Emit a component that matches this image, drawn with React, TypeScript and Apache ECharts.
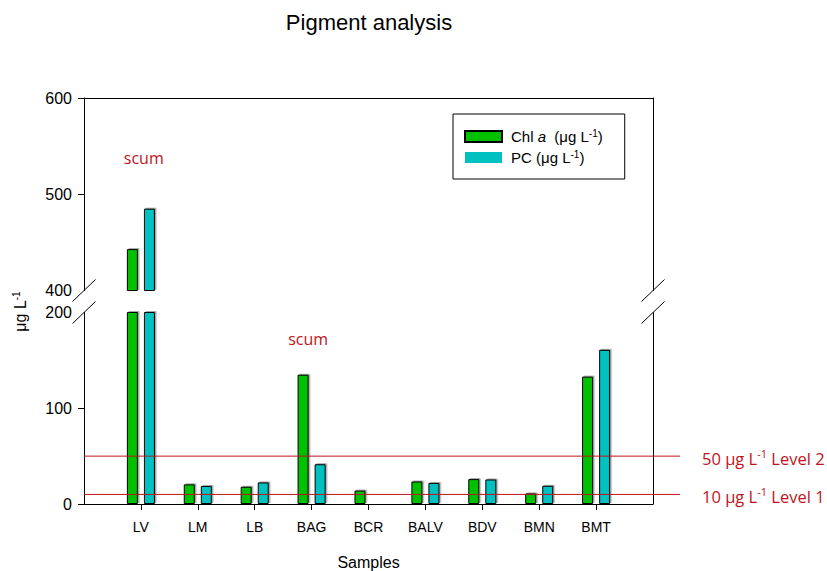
import React, { useEffect, useRef } from 'react';
import * as echarts from 'echarts';

// ---- data ----
const categories = ['LV', 'LM', 'LB', 'BAG', 'BCR', 'BALV', 'BDV', 'BMN', 'BMT'];
const chlA = [443, 20.5, 18, 135, 14, 23.5, 26, 11, 133];
const pc = [485, 18.8, 22.5, 41.5, 0, 22, 25.6, 19, 161];
const lowerTickValues = [0, 100, 200];
const upperTickValues = [400, 500, 600];
const levelValues = [50, 10];
const levelNames = ['Level 2', 'Level 1'];
const scumSamples = ['LV', 'BAG'];

const NAME_CHL = 'Chl a  (μg L-1)';
const NAME_PC = 'PC (μg L-1)';
const GREEN = '#00C000';
const CYAN = '#00C0C0';
const RED = '#C0141C';
const SANS = '"Liberation Sans", Arial, sans-serif';
const HUMAN = '"Open Sans", "Noto Sans", sans-serif';

const LOWER_MAX = lowerTickValues[lowerTickValues.length - 1];
const UPPER_MIN = upperTickValues[0];
const UPPER_MAX = upperTickValues[upperTickValues.length - 1];

const barItemStyle = (color: string) => ({
  color,
  borderColor: '#000',
  borderWidth: 1,
  shadowColor: 'rgba(0,0,0,0.35)',
  shadowOffsetX: 1.5,
  shadowOffsetY: -1,
  shadowBlur: 0,
});

const legendRich = {
  t: { fontFamily: SANS, fontSize: 15, color: '#000', lineHeight: 17 },
  i: { fontFamily: SANS, fontSize: 15, color: '#000', fontStyle: 'italic', lineHeight: 17 },
  s: { fontFamily: SANS, fontSize: 10, color: '#000', verticalAlign: 'top', lineHeight: 10 },
};

function buildOption() {
  const lowerData = (arr: number[]) => arr.map((v, i) => [i + 1, v]);
  const upperData = (arr: number[]) => arr.map((v, i) => [i + 1, v > UPPER_MIN ? v : '-']);
  const common = { type: 'bar', barWidth: 11, barGap: '55%', clip: true };
  const yBase = {
    type: 'value',
    axisLine: { show: true, lineStyle: { color: '#000', width: 1 } },
    axisTick: { show: true, inside: false, length: 6, lineStyle: { color: '#000' } },
    axisLabel: { fontFamily: SANS, fontSize: 16, color: '#000', margin: 12 },
    splitLine: { show: false },
  };
  const yRight = {
    type: 'value',
    position: 'right',
    axisLine: { show: true, onZero: false, lineStyle: { color: '#000', width: 1 } },
    axisTick: { show: false },
    axisLabel: { show: false },
    splitLine: { show: false },
  };
  return {
    animation: false,
    backgroundColor: '#fff',
    title: {
      text: 'Pigment analysis',
      left: 369,
      textAlign: 'center',
      top: 11,
      padding: 0,
      textStyle: { fontFamily: SANS, fontSize: 22, fontWeight: 'normal', color: '#000' },
    },
    legend: {
      orient: 'vertical',
      left: 453,
      top: 114,
      padding: [14, 22, 14, 11],
      itemWidth: 37,
      itemHeight: 11,
      itemGap: 5,
      icon: 'rect',
      selectedMode: false,
      backgroundColor: '#fff',
      borderColor: '#000',
      borderWidth: 1,
      borderRadius: 0,
      itemStyle: { shadowColor: 'rgba(0,0,0,0)', shadowOffsetX: 0, shadowOffsetY: 0, shadowBlur: 0 },
      data: [
        { name: NAME_CHL },
        { name: NAME_PC, itemStyle: { borderWidth: 0 } },
      ],
      formatter: (name: string) =>
        name === NAME_CHL
          ? '{t|Chl }{i|a}{t|  (μg L}{s|-1}{t|)}'
          : '{t|PC (μg L}{s|-1}{t|)}',
      textStyle: { fontFamily: SANS, fontSize: 15, color: '#000', padding: [0, 0, 0, 4], rich: legendRich },
    },
    grid: [
      { left: 84, right: 174, top: 98, height: 192.5 },
      { left: 84, right: 174, top: 312.5, height: 192.5 },
    ],
    xAxis: [
      {
        type: 'value', gridIndex: 0, min: 0, max: categories.length + 1, position: 'top',
        axisLine: { show: true, onZero: false, lineStyle: { color: '#000', width: 1 } },
        axisTick: { show: false }, axisLabel: { show: false }, splitLine: { show: false },
      },
      {
        type: 'value', gridIndex: 1, min: 0, max: categories.length + 1, interval: 1, position: 'bottom',
        name: 'Samples', nameLocation: 'middle', nameGap: 50,
        nameTextStyle: { fontFamily: SANS, fontSize: 16, color: '#000' },
        axisLine: { show: true, onZero: false, lineStyle: { color: '#000', width: 1 } },
        axisTick: { show: true, length: 6, customValues: categories.map((_, i) => i + 1), lineStyle: { color: '#000' } },
        axisLabel: {
          customValues: categories.map((_, i) => i + 1),
          formatter: (v: number) => categories[v - 1] ?? '',
          fontFamily: SANS, fontSize: 14, color: '#000', margin: 16,
        },
        splitLine: { show: false },
      },
    ],
    yAxis: [
      {
        ...yBase, gridIndex: 0, min: UPPER_MIN, max: UPPER_MAX, interval: 100,
        axisTick: { ...yBase.axisTick, customValues: upperTickValues.slice(1) },
        axisLabel: { ...yBase.axisLabel, customValues: upperTickValues },
      },
      {
        ...yBase, gridIndex: 1, min: 0, max: LOWER_MAX, interval: 100,
        axisTick: { ...yBase.axisTick, customValues: lowerTickValues.slice(0, -1) },
        axisLabel: { ...yBase.axisLabel, customValues: lowerTickValues },
      },
      { ...yRight, gridIndex: 0, min: UPPER_MIN, max: UPPER_MAX },
      { ...yRight, gridIndex: 1, min: 0, max: LOWER_MAX },
    ],
    series: [
      { ...common, name: NAME_CHL, xAxisIndex: 1, yAxisIndex: 1, data: lowerData(chlA), itemStyle: barItemStyle(GREEN) },
      { ...common, name: NAME_PC, xAxisIndex: 1, yAxisIndex: 1, data: lowerData(pc), itemStyle: barItemStyle(CYAN) },
      { ...common, name: NAME_CHL, xAxisIndex: 0, yAxisIndex: 0, data: upperData(chlA), itemStyle: barItemStyle(GREEN) },
      { ...common, name: NAME_PC, xAxisIndex: 0, yAxisIndex: 0, data: upperData(pc), itemStyle: barItemStyle(CYAN) },
    ],
  };
}

export default function App() {
  const ref = useRef<HTMLDivElement>(null);
  useEffect(() => {
    if (!ref.current) return;
    const chart = echarts.init(ref.current, null, { renderer: 'svg' });
    chart.setOption(buildOption() as any);

    const px = (g: number, x: number, y: number) =>
      chart.convertToPixel({ xAxisIndex: g, yAxisIndex: g }, [x, y]) as number[];
    const n = categories.length + 1;
    const leftX = px(1, 0, 0)[0];
    const rightX = px(1, n, 0)[0];
    const yUp = px(0, 0, UPPER_MIN)[1];
    const yLo = px(1, 0, LOWER_MAX)[1];

    const graphics: any[] = [];
    // axis break slashes
    [leftX, rightX].forEach((x) => {
      [yUp, yLo].forEach((y) => {
        graphics.push({
          type: 'line',
          shape: { x1: x - 11.5, y1: y + 11, x2: x + 11.5, y2: y - 11 },
          style: { stroke: '#000', lineWidth: 1 },
        });
      });
    });
    // level lines
    levelValues.forEach((v, k) => {
      const y = px(1, 0, v)[1];
      graphics.push({
        type: 'line',
        shape: { x1: leftX, y1: y, x2: rightX + 27, y2: y },
        style: { stroke: RED, lineWidth: 1 },
        z: 10,
      });
      graphics.push({
        type: 'text',
        x: rightX + 49,
        y: y + 2,
        style: {
          text: `{r|${v} μg L}{s|-1}{r| ${levelNames[k]}}`,
          verticalAlign: 'middle',
          align: 'left',
          rich: {
            r: { fontFamily: HUMAN, fontSize: 16.5, fill: RED, lineHeight: 20 },
            s: { fontFamily: HUMAN, fontSize: 11, fill: RED, verticalAlign: 'top', lineHeight: 11 },
          },
        },
      });
    });
    // scum notes
    const scumPos: Record<string, [number, number, number]> = {
      LV: [0, 0.05, 538],
      BAG: [1, -0.06, 172],
    };
    scumSamples.forEach((s) => {
      const [g, dx, yv] = scumPos[s];
      const idx = categories.indexOf(s) + 1;
      const p = px(g, idx + dx, yv);
      graphics.push({
        type: 'text',
        x: p[0],
        y: p[1],
        style: { text: 'scum', fill: RED, fontFamily: HUMAN, fontSize: 16, align: 'center', verticalAlign: 'middle' },
      });
    });
    // y-axis title
    graphics.push({
      type: 'text',
      x: 20,
      y: (yUp + yLo) / 2 + 10,
      rotation: Math.PI / 2,
      style: {
        text: '{t|μg L}{s|-1}',
        align: 'center',
        verticalAlign: 'middle',
        rich: {
          t: { fontFamily: SANS, fontSize: 16, fill: '#000', lineHeight: 18 },
          s: { fontFamily: SANS, fontSize: 10, fill: '#000', verticalAlign: 'top', lineHeight: 10 },
        },
      },
    });
    chart.setOption({ graphic: graphics });
    return () => chart.dispose();
  }, []);
  return (
    <div
      ref={ref}
      style={{ position: 'absolute', left: 0, top: 0, width: 827, height: 571 }}
    />
  );
}
